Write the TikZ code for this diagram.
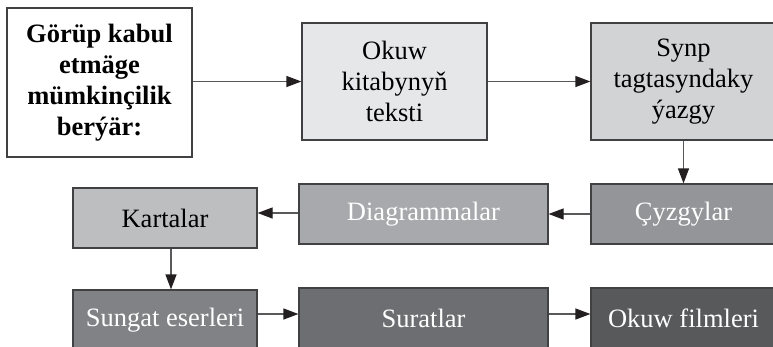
\documentclass[tikz,border=0pt]{standalone}
\usepackage{fontspec}
\setmainfont{Liberation Serif}
\usetikzlibrary{arrows.meta}
\definecolor{cA}{HTML}{E6E7E8}
\definecolor{cB}{HTML}{D1D3D4}
\definecolor{cC}{HTML}{939598}
\definecolor{cD}{HTML}{A7A9AC}
\definecolor{cE}{HTML}{BCBEC0}
\definecolor{cF}{HTML}{808285}
\definecolor{cG}{HTML}{6D6E71}
\definecolor{cH}{HTML}{58595B}
\definecolor{edge}{HTML}{414042}
\definecolor{lin}{HTML}{58595B}
\definecolor{tip}{HTML}{231F20}
\begin{document}
\begin{tikzpicture}[x=1pt,y=-1pt,
  box/.style={draw=edge, line width=1.2pt, rectangle, inner sep=0pt, align=center,
    font=\fontsize{26.5}{31}\selectfont},
  conn/.style={draw=lin, line width=1.2pt, -{Triangle[length=15pt,width=11pt,fill=tip,color=tip]}}]
\useasboundingbox (0,0) rectangle (773,346);
\clip (0,0) rectangle (773,346);
\node[box, fill=white, minimum width=185pt, minimum height=149pt, font=\fontsize{26.5}{31}\selectfont\bfseries] (b1) at (99.5,82.5) {Görüp kabul\\etmäge\\mümkinçilik\\berýär:};
\node[box, fill=cA, minimum width=185pt, minimum height=117pt] (b2) at (394.5,81.5) {Okuw\\kitabynyň\\teksti};
\node[box, fill=cB, minimum width=185pt, minimum height=117pt] (b3) at (683.5,81.5) {Synp\\tagtasyndaky\\ýazgy};
\node[box, fill=cC, text=white, minimum width=185pt, minimum height=60pt] (cyz) at (683.5,214) {Çyzgylar};
\node[box, fill=cD, text=white, minimum width=249pt, minimum height=60pt] (dia) at (423.5,214) {Diagrammalar};
\node[box, fill=cE, minimum width=184pt, minimum height=60pt] (kar) at (165,218) {Kartalar};
\node[box, fill=cF, text=white, minimum width=184pt, minimum height=60pt] (sun) at (165,320) {Sungat eserleri};
\node[box, fill=cG, text=white, minimum width=249pt, minimum height=60pt] (sur) at (423.5,318) {Suratlar};
\node[box, fill=cH, text=white, minimum width=185pt, minimum height=60pt] (okf) at (683.5,318) {Okuw filmleri};
\draw[conn] (b1.east |- b2.west) -- (b2.west);
\draw[conn] (b2.east) -- (b3.west);
\draw[conn] (b3.south) -- (cyz.north);
\draw[conn] (cyz.west) -- (dia.east);
\draw[conn] ([yshift=1pt]dia.west) -- ([yshift=1pt]dia.west -| kar.east);
\draw[conn] ([xshift=6pt]kar.south) -- ([xshift=6pt]sun.north);
\draw[conn] ([yshift=6pt]sun.east) -- ([yshift=6pt]sun.east -| sur.west);
\draw[conn] ([yshift=4pt]sur.east) -- ([yshift=4pt]okf.west);
\end{tikzpicture}
\end{document}
